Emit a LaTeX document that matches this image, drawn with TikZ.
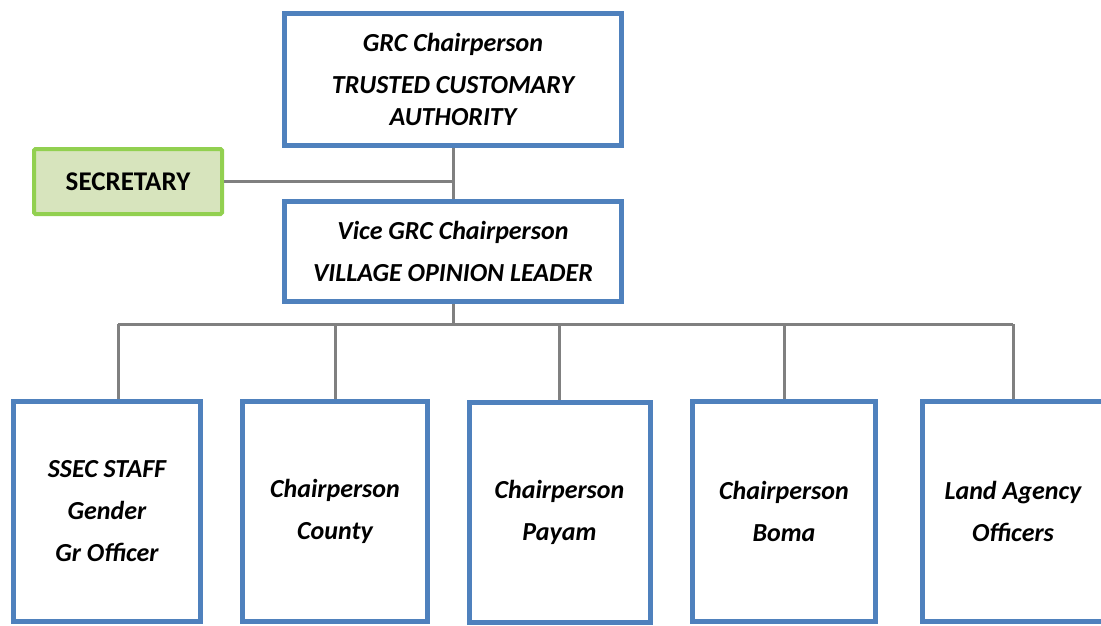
\documentclass[tikz,border=0pt]{standalone}
\usepackage{fontspec}
\setmainfont{Carlito}
\definecolor{rahmenblau}{HTML}{4F81BD}
\definecolor{rahmengruen}{HTML}{92D050}
\definecolor{fuellgruen}{HTML}{D7E4BD}
\definecolor{liniengrau}{HTML}{808080}
\begin{document}
\begin{tikzpicture}[x=1pt, y=-1pt,
		kasten/.style={draw=rahmenblau, line width=5pt, fill=white, align=center, inner sep=0pt,
			font=\fontsize{26}{32}\selectfont\bfseries\itshape},
		unten/.style={kasten, minimum height=220pt},
		sekr/.style={draw=rahmengruen, fill=fuellgruen, line width=4pt, rounded corners=1.5pt,
			minimum width=188pt, minimum height=65pt, font=\fontsize{27}{32}\selectfont\bfseries},
		linie/.style={draw=liniengrau, line width=3pt}]
		
		% Rahmen
		\useasboundingbox (0,0) rectangle (1101,626);
		
		% Sammelschiene
		\coordinate (bus) at (453,324);
		
		% Oben
		\node[kasten, minimum width=337pt, minimum height=132pt] (grc) at (453,79.5)
			{GRC Chairperson\\[10pt] TRUSTED CUSTOMARY\\ AUTHORITY};
		\node[kasten, minimum width=337pt, minimum height=100pt] (vice) at (453,251.5)
			{Vice GRC Chairperson\\[10pt] VILLAGE OPINION LEADER};
		\node[sekr] (sec) at (128,181.5) {SECRETARY};
		
		% Unten
		\node[unten, minimum width=187pt] (staff) at (107,511.5)
			{SSEC STAFF\\[10pt] Gender\\[10pt] Gr Officer};
		\node[unten, minimum width=185pt] (county) at (335,511.5)
			{Chairperson\\[10pt] County};
		\node[unten, minimum width=181pt] (payam) at (559.5,512.5)
			{Chairperson\\[10pt] Payam};
		\node[unten, minimum width=183pt] (boma) at (784,511.5)
			{Chairperson\\[10pt] Boma};
		\node[unten, minimum width=181pt] (land) at (1013,511.5)
			{Land Agency\\[10pt] Officers};
		
		% Linien
		\draw[linie] (grc.south) -- (vice.north);
		\draw[linie] (sec.east) -- (sec.east -| grc.south);
		\draw[linie] (vice.south) -- (bus);
		\draw[linie] ([xshift=11pt]staff.north |- bus) -- (land.north |- bus);
		\draw[linie] ([xshift=11pt]staff.north |- bus) -- ([xshift=11pt]staff.north);
		\draw[linie] (county.north |- bus) -- (county.north);
		\draw[linie] (payam.north |- bus) -- (payam.north);
		\draw[linie] (boma.north |- bus) -- (boma.north);
		\draw[linie] (land.north |- bus) -- (land.north);
	\end{tikzpicture}
\end{document}
